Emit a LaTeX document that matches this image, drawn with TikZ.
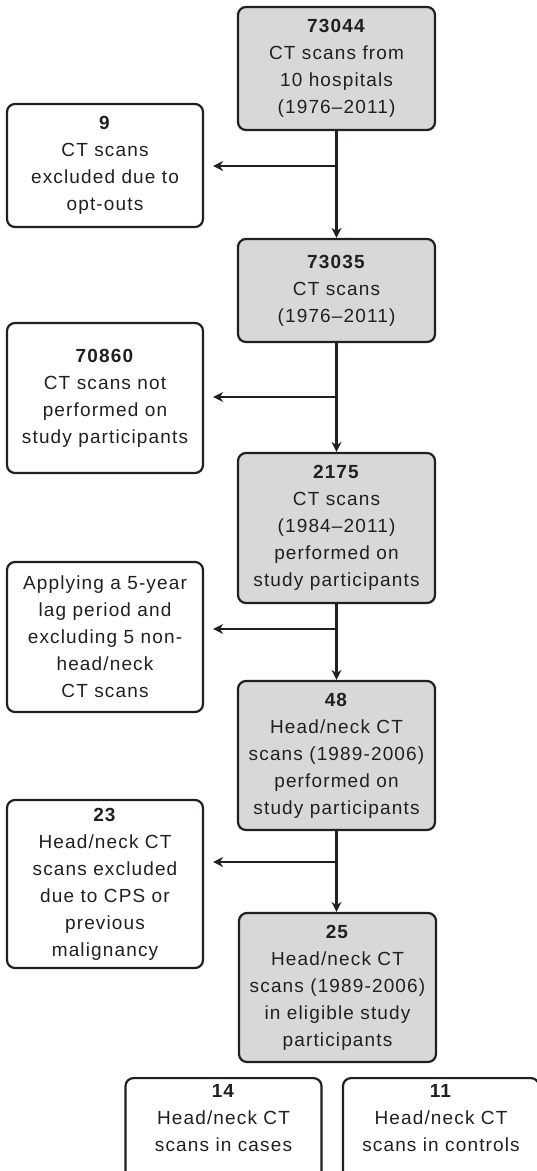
\documentclass[tikz,border=0pt]{standalone}
\usepackage{fontspec}
\setmainfont{Liberation Sans}[LetterSpace=6]
\usetikzlibrary{arrows.meta}
\definecolor{boxgrey}{HTML}{D8D8D8}
\definecolor{inkdark}{HTML}{231F20}

\begin{document}
\begin{tikzpicture}[x=1pt,y=-1pt,
	stagebox/.style={draw=inkdark, line width=2.2pt, rounded corners=8pt, align=center,
		inner sep=0pt, font=\fontsize{19}{27}\selectfont, text=inkdark},
	mainbox/.style={stagebox, fill=boxgrey, minimum width=197pt},
	sidebox/.style={stagebox, fill=white, minimum width=196pt},
	arr/.style={draw=inkdark, line width=2.2pt, -{Stealth[length=10pt,width=10pt]}}]
	\clip (0,0) rectangle (537,1171);
	% main column
	\node[mainbox, minimum height=123pt] (n73044) at (336.5,68.5) {\textbf{73044}\\CT scans from\\10 hospitals\\(1976--2011)};
	\node[mainbox, minimum height=103pt] (n73035) at (336.5,290.5) {\textbf{73035}\\CT scans\\(1976--2011)};
	\node[mainbox, minimum height=150pt] (n2175) at (336.5,528) {\textbf{2175}\\CT scans\\(1984--2011)\\performed on\\study participants};
	\node[mainbox, minimum height=149pt] (n48) at (336.5,755.5) {\textbf{48}\\Head/neck CT\\scans (1989-2006)\\performed on\\study participants};
	\node[mainbox, minimum height=149pt] (n25) at (337.5,987.5) {\textbf{25}\\Head/neck CT\\scans (1989-2006)\\in eligible study\\participants};
	% exclusions
	\node[sidebox, minimum height=123pt] (x9) at (105,165.5) {\textbf{9}\\CT scans\\excluded due to\\opt-outs};
	\node[sidebox, minimum height=150pt] (x70860) at (105,398) {\textbf{70860}\\CT scans not\\performed on\\study participants};
	\node[sidebox, minimum height=150pt] (xlag) at (105,637) {Applying a 5-year\\lag period and\\excluding 5 non-\\head/neck\\CT scans};
	\node[sidebox, minimum height=168pt] (x23) at (105,884) {\textbf{23}\\Head/neck CT\\scans excluded\\due to CPS or\\previous\\malignancy};
	% cases and controls
	\node[sidebox, anchor=north, inner ysep=6pt, text depth=60pt] (ncases) at (223.5,1077) {\textbf{14}\\Head/neck CT\\scans in cases};
	\node[sidebox, anchor=north, inner ysep=6pt, text depth=60pt] (nctrl) at (441,1077) {\textbf{11}\\Head/neck CT\\scans in controls};
	% junctions
	\coordinate (j1) at (n73044.south |- 0,166);
	\coordinate (j2) at (n73035.south |- 0,397);
	\coordinate (j3) at (n2175.south |- 0,629);
	\coordinate (j4) at (n48.south |- 0,862);
	\draw[arr] (n73044.south) -- (n73044.south |- n73035.north);
	\draw[arr] (n73035.south) -- (n73035.south |- n2175.north);
	\draw[arr] (n2175.south) -- (n2175.south |- n48.north);
	\draw[arr] (n48.south) -- (n48.south |- n25.north);
	\draw[arr, shorten >=9pt] (j1) -- (j1 -| x9.east);
	\draw[arr, shorten >=9pt] (j2) -- (j2 -| x70860.east);
	\draw[arr, shorten >=9pt] (j3) -- (j3 -| xlag.east);
	\draw[arr, shorten >=9pt] (j4) -- (j4 -| x23.east);
\end{tikzpicture}
\end{document}
